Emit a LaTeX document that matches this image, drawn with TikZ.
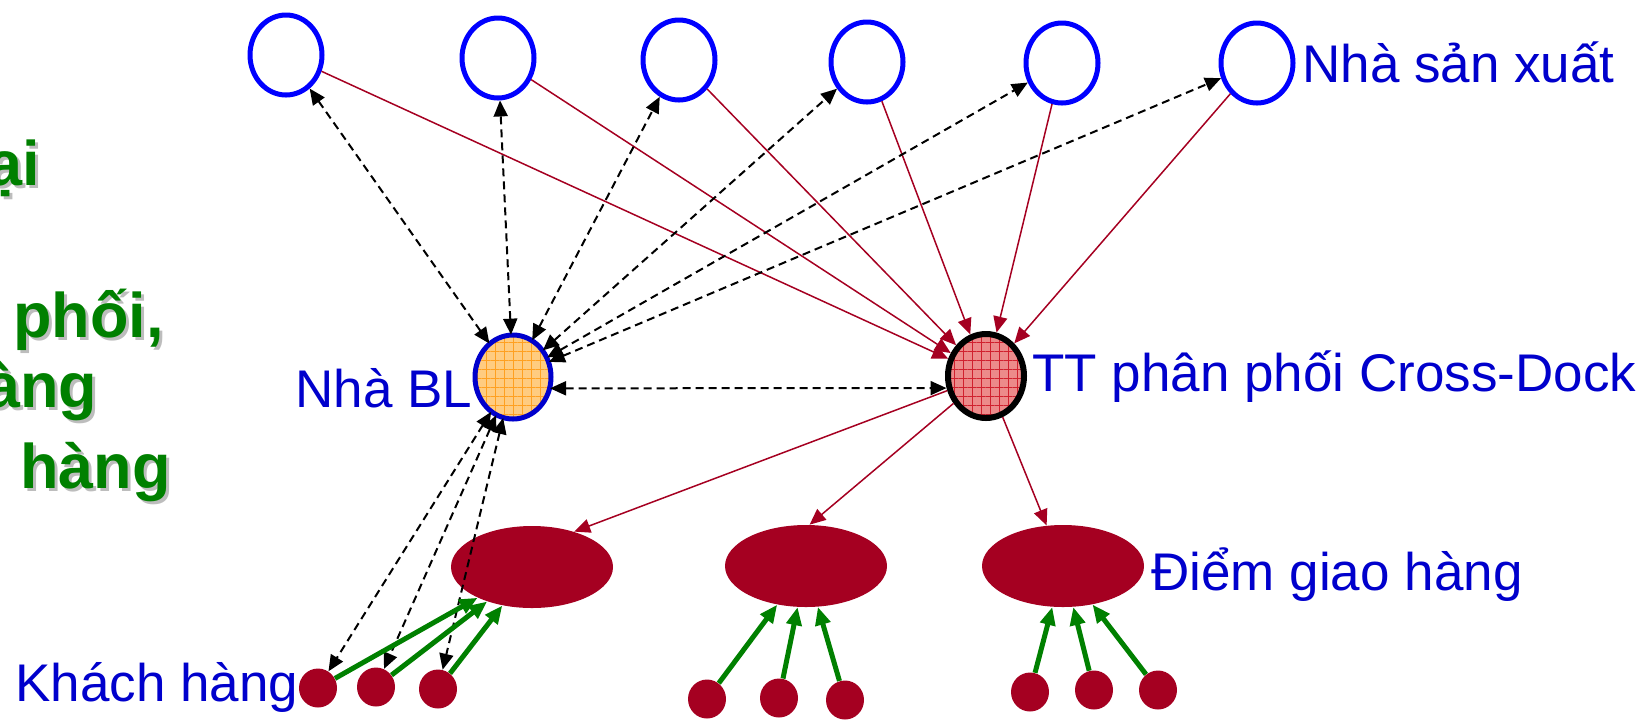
\documentclass[tikz,border=0pt]{standalone}
\usepackage{fontspec}
\setmainfont{Liberation Sans}
\usetikzlibrary{shapes.geometric,arrows.meta,patterns.meta}
\definecolor{wine}{HTML}{A50021}
\definecolor{lblue}{HTML}{0000CC}
\definecolor{pblue}{HTML}{0000FF}
\definecolor{dgreen}{HTML}{008000}
\definecolor{shade}{HTML}{BDBDBD}
\definecolor{bfill}{HTML}{FFCC80}
\definecolor{bgrid}{HTML}{FFA020}
\definecolor{cfill}{HTML}{EC8A8A}
\definecolor{cgrid}{HTML}{D0202E}

\begin{document}
\begin{tikzpicture}[x=0.5pt,y=-0.5pt,
	producer/.style={ellipse,draw=pblue,line width=2.5pt,minimum width=36pt,minimum height=40pt,inner sep=0pt},
	retailer/.style={ellipse,draw=lblue,line width=2.5pt,minimum width=38pt,minimum height=42pt,inner sep=0pt,
		preaction={fill=bfill},pattern={Hatch[angle=0,distance=4.5pt,line width=0.4pt]},pattern color=bgrid},
	crossdock/.style={ellipse,draw=black,line width=3pt,minimum width=38pt,minimum height=42pt,inner sep=0pt,
		preaction={fill=cfill},pattern={Hatch[angle=0,distance=4.5pt,line width=0.4pt]},pattern color=cgrid},
	dpoint/.style={ellipse,fill=wine,minimum width=81pt,minimum height=41pt,inner sep=0pt},
	customer/.style={ellipse,fill=wine,minimum width=19pt,minimum height=19.5pt,inner sep=0pt},
	lbl/.style={text=lblue,font=\fontsize{26.5}{30}\selectfont,anchor=base west,inner sep=0pt},
	title/.style={font=\bfseries\fontsize{31.5}{36}\selectfont,anchor=base west,inner sep=0pt},
	supply/.style={draw=wine,line width=0.75pt,-{Triangle[length=8pt,width=7pt]}},
	info/.style={draw=black,line width=1pt,dash pattern=on 4pt off 2.5pt,{Triangle[length=8pt,width=7pt]}-{Triangle[length=8pt,width=7pt]}},
	pickup/.style={draw=dgreen,line width=2.5pt,-{Triangle[length=9pt,width=7.5pt]}}]
	\useasboundingbox (0,0) rectangle (1644,720);

	% green title, cut at the left edge
	\foreach \t/\x/\y in {ại/-12.5/185, {phối,}/13/337, àng/-15/407, hàng/20/488}{
		\node[title,text=shade] at (\x+3,\y+3) {\t};
		\node[title,text=dgreen] at (\x,\y) {\t};
	}

	% producers
	\foreach \i/\x/\y in {1/286/55, 2/498/58, 3/679/60, 4/867/62, 5/1062/63, 6/1257/63}
		\node[producer] (p\i) at (\x,\y) {};
	\node[lbl] (lp) at (1302,82) {Nhà sản xuất};

	% retailer and cross-dock
	\node[retailer] (bl) at (513,377) {};
	\node[lbl] (lbl) at (295,407) {Nhà BL};
	\node[crossdock] (cd) at (986,376) {};
	\node[lbl] (lcd) at (1032,391) {TT phân phối Cross-Dock};

	% delivery points
	\node[dpoint] (d1) at (532,567) {};
	\node[dpoint] (d2) at (806,566) {};
	\node[dpoint] (d3) at (1063,566) {};
	\node[lbl] (ld) at (1151,590) {Điểm giao hàng};

	% customers
	\foreach \i/\x/\y in {1/318/688, 2/376/687, 3/438/689, 4/707/699, 5/779/698, 6/845/700, 7/1030/692, 8/1094/690, 9/1158/690}
		\node[customer] (c\i) at (\x,\y) {};
	\node[lbl] (lc) at (15,701) {Khách hàng};

	% flows
	\foreach \i in {1,...,6}{
		\draw[supply] (p\i) -- (cd);
		\draw[info] (bl) -- (p\i);
	}
	\draw[info] (bl.-17) -- (cd.197);
	\foreach \i in {1,2,3}
		\draw[info] (bl) -- (c\i);
	\foreach \i/\a in {1/40, 2/85, 3/112}
		\draw[supply] (cd) -- (d\i.\a);
	\foreach \i/\j in {1/1, 2/1, 3/1, 4/2, 5/2, 6/2, 7/3, 8/3, 9/3}
		\draw[pickup] (c\i) -- (d\j);
\end{tikzpicture}
\end{document}
